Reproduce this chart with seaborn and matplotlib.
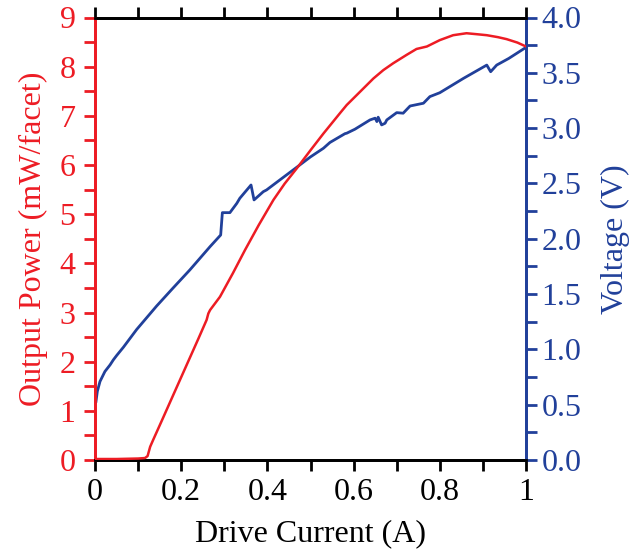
import matplotlib
matplotlib.use("Agg")
import matplotlib.pyplot as plt
import seaborn as sns
import pandas as pd
import numpy as np
from matplotlib.ticker import MultipleLocator, FixedLocator, FixedFormatter

# ---- data ----
current_p = [0, 0.05, 0.10, 0.116, 0.122, 0.128, 0.135, 0.155, 0.185, 0.213, 0.24,
             0.259, 0.263, 0.267, 0.29, 0.32, 0.348, 0.38, 0.414, 0.44, 0.468, 0.50,
             0.53, 0.568, 0.584, 0.607, 0.646, 0.669, 0.692, 0.723, 0.746, 0.770,
             0.800, 0.831, 0.862, 0.886, 0.909, 0.935, 0.955, 0.98, 1.0]
power = [0.02, 0.02, 0.03, 0.04, 0.08, 0.27, 0.41, 0.80, 1.39, 1.94, 2.47,
         2.85, 2.98, 3.05, 3.32, 3.80, 4.27, 4.78, 5.29, 5.62, 5.93, 6.30,
         6.64, 7.05, 7.22, 7.42, 7.76, 7.93, 8.07, 8.24, 8.36, 8.41,
         8.54, 8.64, 8.68, 8.66, 8.64, 8.60, 8.56, 8.49, 8.41]

current_v = [0.002, 0.0054, 0.0116, 0.023, 0.035, 0.0425, 0.0503, 0.066, 0.0967,
             0.143, 0.18, 0.22, 0.267, 0.2916,
             0.2955, 0.313, 0.329, 0.336, 0.362, 0.369, 0.3906, 0.398, 0.429, 0.468,
             0.50, 0.53, 0.545, 0.58, 0.584, 0.603, 0.638, 0.650, 0.654, 0.657, 0.665,
             0.673, 0.677, 0.700, 0.715, 0.731, 0.762, 0.777, 0.80, 0.855, 0.909,
             0.918, 0.932, 0.96, 1.0]
voltage = [0.52, 0.62, 0.71, 0.80, 0.86, 0.905, 0.945, 1.02, 1.18,
           1.392, 1.55, 1.718, 1.929, 2.034,
           2.236, 2.236, 2.32, 2.366, 2.486, 2.351, 2.426, 2.441, 2.532, 2.646,
           2.74, 2.818, 2.87, 2.95, 2.954, 2.99, 3.074, 3.09, 3.059, 3.099, 3.029,
           3.044, 3.074, 3.14, 3.135, 3.20, 3.225, 3.285, 3.32, 3.45, 3.57,
           3.51, 3.57, 3.63, 3.73]

x_ticks = [0, 0.2, 0.4, 0.6, 0.8, 1.0]
x_labels = ["0", "0.2", "0.4", "0.6", "0.8", "1"]
p_ticks = [0, 1, 2, 3, 4, 5, 6, 7, 8, 9]
v_ticks = [0.0, 0.5, 1.0, 1.5, 2.0, 2.5, 3.0, 3.5, 4.0]

RED = "#ED1C24"
BLUE = "#21409A"

sns.set_style("white")
plt.rcParams["font.family"] = ["Liberation Serif", "DejaVu Serif"]

df_p = pd.DataFrame({"current": current_p, "power": power})
df_v = pd.DataFrame({"current": current_v, "voltage": voltage})

fig = plt.figure(figsize=(6.31, 5.53), dpi=100)
ax = fig.add_axes([95 / 631, 1 - 460 / 553, (526 - 95) / 631, (460 - 17.5) / 553])
ax2 = ax.twinx()

sns.lineplot(data=df_p, x="current", y="power", ax=ax, color=RED, lw=1.8,
             estimator=None, sort=False, zorder=3)
sns.lineplot(data=df_v, x="current", y="voltage", ax=ax2, color=BLUE, lw=2.0,
             estimator=None, sort=False, zorder=3)

ax.set_xlim(0, 1)
ax.set_ylim(0, 9)
ax2.set_ylim(0, 4)

FS = 23
ax.xaxis.set_major_locator(FixedLocator(x_ticks))
ax.xaxis.set_major_formatter(FixedFormatter(x_labels))
ax.xaxis.set_minor_locator(MultipleLocator(0.1))
ax.yaxis.set_major_locator(FixedLocator(p_ticks))
ax.yaxis.set_minor_locator(MultipleLocator(0.5))
ax2.yaxis.set_major_locator(FixedLocator(v_ticks))
ax2.yaxis.set_major_formatter(FixedFormatter([f"{v:.1f}" for v in v_ticks]))
ax2.yaxis.set_minor_locator(MultipleLocator(0.25))

ax.tick_params(axis="x", which="both", direction="out", length=8, width=2,
               top=True, bottom=True, labelsize=FS, colors="black", pad=5)
ax.tick_params(axis="y", which="both", direction="out", length=8, width=2,
               left=True, right=False, labelsize=FS, colors=RED, pad=6)
ax2.tick_params(axis="y", which="both", direction="out", length=8, width=2,
                right=True, left=False, labelsize=FS, colors=BLUE, pad=3)

for a in (ax, ax2):
    for s in a.spines.values():
        s.set_linewidth(2)
        s.set_visible(True)
    a.spines["top"].set_color("black")
    a.spines["bottom"].set_color("black")
    a.spines["left"].set_color(RED)
    a.spines["right"].set_color(BLUE)

ax.set_xlabel("Drive Current (A)", fontsize=FS, color="black", labelpad=9)
ax.set_ylabel("Output Power (mW/facet)", fontsize=FS, color=RED, labelpad=8)
ax2.set_ylabel("Voltage (V)", fontsize=FS, color=BLUE, labelpad=14)

ax.set_zorder(2)
ax.patch.set_visible(False)
ax2.set_zorder(1)

fig.savefig("out.png", dpi=100)
